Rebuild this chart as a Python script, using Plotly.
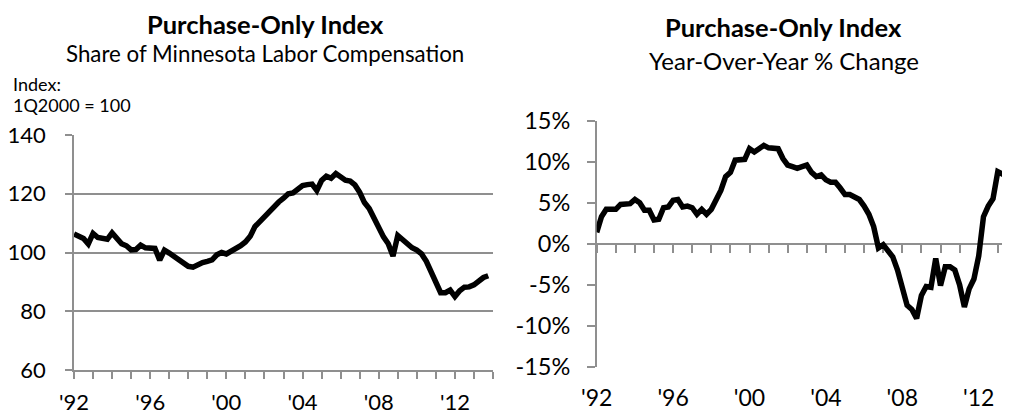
import plotly.graph_objects as go

# ---------------- data ----------------
quarters = [1992 + i / 4 for i in range(88)]  # 1992Q1 ... 2013Q4

index_values = [
    106.3, 105.5, 104.8, 102.9,   # 1992
    106.5, 105.1, 104.9, 104.5,   # 1993
    106.7, 104.5, 103.0, 102.3,   # 1994
    100.9, 101.0, 102.5, 101.6,   # 1995
    101.4, 101.4, 97.4, 100.8,    # 1996
    99.8, 98.6, 97.4, 96.5,       # 1997
    95.3, 95.0, 96.0, 96.6,       # 1998
    97.0, 97.5, 99.2, 100.0,      # 1999
    99.5, 100.3, 101.5, 102.3,    # 2000
    103.6, 105.5, 108.8, 110.6,   # 2001
    112.0, 114.2, 116.0, 117.2,   # 2002
    118.5, 120.0, 120.3, 121.7,   # 2003
    122.8, 123.1, 123.3, 121.1,   # 2004
    124.5, 126.0, 125.3, 126.9,   # 2005
    125.5, 124.6, 124.3, 123.0,   # 2006
    120.5, 117.0, 115.0, 111.5,   # 2007
    108.0, 105.3, 103.0, 98.8,    # 2008
    105.8, 104.3, 103.3, 101.6,   # 2009
    100.8, 99.5, 97.0, 93.5,      # 2010
    89.5, 86.3, 86.3, 87.2,       # 2011
    85.0, 87.0, 88.2, 88.3,       # 2012
    89.0, 90.5, 91.5, 92.1,       # 2013
]

yoy_values = [
    1.4, 3.3, 4.2, 4.2,           # 1992
    4.2, 4.8, 4.8, 4.9,           # 1993
    5.4, 5.0, 4.1, 4.1,           # 1994
    2.9, 3.0, 4.4, 4.5,           # 1995
    5.3, 5.4, 4.5, 4.6,           # 1996
    4.4, 3.6, 4.2, 3.6,           # 1997
    4.2, 5.3, 6.5, 8.2,           # 1998
    8.7, 10.2, 10.2, 10.3,        # 1999
    11.6, 11.2, 11.6, 12.0,       # 2000
    11.7, 11.7, 11.6, 10.4,       # 2001
    9.6, 9.4, 9.2, 9.4,           # 2002
    9.6, 8.7, 8.2, 8.4,           # 2003
    7.8, 7.5, 7.5, 6.8,           # 2004
    6.0, 6.0, 5.6, 5.4,           # 2005
    4.6, 3.6, 2.1, -0.5,          # 2006
    -0.1, -1.0, -1.6, -3.2,       # 2007
    -5.5, -7.5, -8.0, -9.1,       # 2008
    -6.3, -5.2, -5.3, -1.8,       # 2009
    -5.1, -2.8, -2.8, -3.2,       # 2010
    -5.0, -7.7, -5.5, -4.3,       # 2011
    -1.5, 3.3, 4.6, 5.5,          # 2012
    8.8, 8.5, 9.0, 9.4,           # 2013
]

year_ticks = [1992, 1996, 2000, 2004, 2008, 2012]
year_labels = ["'92", "'96", "'00", "'04", "'08", "'12"]
all_years = list(range(1992, 2015))

index_ticks = [60, 80, 100, 120, 140]
pct_ticks = [-15, -10, -5, 0, 5, 10, 15]
pct_labels = ["-15%", "-10%", "-5%", "0%", "5%", "10%", "15%"]

# ---------------- style ----------------
W, H = 1010, 414
OFF = 8  # page body margin in the browser
FONT = "Lato"
GRAY = "#8f8f8f"
TICKFONT_L = dict(family=FONT, size=22, color="#000000")
TICKFONT_RX = dict(family=FONT, size=23, color="#000000")
TICKFONT_RY = dict(family=FONT, size=23.5, color="#000000")

def px_x(p):
    return (p - OFF) / W

def px_y(p):
    return 1 - (p - OFF) / H

fig = go.Figure()

fig.add_trace(go.Scatter(
    x=quarters, y=index_values, mode="lines",
    line=dict(color="#000000", width=5.5),
    xaxis="x", yaxis="y", showlegend=False, hoverinfo="skip",
))
fig.add_trace(go.Scatter(
    x=quarters, y=yoy_values, mode="lines",
    line=dict(color="#000000", width=5.5),
    xaxis="x2", yaxis="y2", showlegend=False, hoverinfo="skip",
))
# same series bound (invisibly) to the zero-line axis so that axis is drawn
fig.add_trace(go.Scatter(
    x=quarters, y=yoy_values, mode="markers",
    marker=dict(size=1, opacity=0),
    xaxis="x3", yaxis="y2", showlegend=False, hoverinfo="skip",
))

left_dom_x = [px_x(74), px_x(493)]
left_dom_y = [px_y(370), px_y(135)]
right_dom_x = [px_x(596.7), px_x(1010)]
right_dom_y = [px_y(366.8), px_y(120.8)]
right_range_x = [1992, 1992 + (1010 - 596.7) / 19.1]

fig.update_layout(
    width=W, height=H,
    margin=dict(l=0, r=0, t=0, b=0, pad=0, autoexpand=False),
    paper_bgcolor="#ffffff", plot_bgcolor="rgba(0,0,0,0)",
    font=dict(family=FONT, color="#000000"),
    xaxis=dict(
        domain=left_dom_x, anchor="y", range=[1992, 2014], automargin=False,
        tickvals=year_ticks, ticktext=year_labels, tickfont=TICKFONT_L,
        ticks="outside", ticklen=7, tickwidth=1.5, tickcolor=GRAY,
        minor=dict(tickvals=all_years, ticks="outside", ticklen=7,
                   tickwidth=1.5, tickcolor=GRAY, showgrid=False),
        showline=True, linecolor=GRAY, linewidth=1.5, layer="below traces",
        showgrid=False, zeroline=False, ticklabelstandoff=5,
    ),
    yaxis=dict(
        domain=left_dom_y, anchor="x", range=[60, 140], automargin=False,
        tickvals=index_ticks, tickfont=TICKFONT_L,
        ticks="outside", ticklen=7, tickwidth=1.5, tickcolor=GRAY,
        showline=True, linecolor=GRAY, linewidth=1.5, layer="below traces",
        showgrid=True, gridcolor=GRAY, gridwidth=1.5,
        zeroline=False, ticklabelstandoff=15,
    ),
    xaxis2=dict(
        domain=right_dom_x, anchor="y2", range=right_range_x, automargin=False,
        tickvals=year_ticks, ticktext=year_labels, tickfont=TICKFONT_RX,
        ticks="", showline=False, showgrid=False, zeroline=False,
        ticklabelstandoff=15,
    ),
    xaxis3=dict(
        domain=right_dom_x, overlaying="x2", anchor="free", automargin=False,
        position=px_y(243.8), range=right_range_x,
        tickvals=all_years, showticklabels=False,
        ticks="outside", ticklen=8, tickwidth=1.5, tickcolor=GRAY,
        showline=True, linecolor=GRAY, linewidth=1.5, layer="below traces",
        showgrid=False, zeroline=False,
    ),
    yaxis2=dict(
        domain=right_dom_y, anchor="x2", range=[-15, 15], automargin=False,
        tickvals=pct_ticks, ticktext=pct_labels, tickfont=TICKFONT_RY,
        ticks="outside", ticklen=8, tickwidth=1.5, tickcolor=GRAY,
        showline=True, linecolor=GRAY, linewidth=1.5, layer="below traces",
        showgrid=False, zeroline=False, ticklabelstandoff=12,
    ),
)

annotations = [
    dict(text="<b>Purchase-Only Index</b>", x=px_x(265), y=px_y(24),
         font=dict(size=25.5)),
    dict(text="Share of Minnesota Labor Compensation", x=px_x(265), y=px_y(53),
         font=dict(size=22.3)),
    dict(text="Index:", x=px_x(11), y=px_y(84), xanchor="left",
         font=dict(size=18)),
    dict(text="1Q2000 = 100", x=px_x(11), y=px_y(105), xanchor="left",
         font=dict(size=18)),
    dict(text="<b>Purchase-Only Index</b>", x=px_x(783), y=px_y(27),
         font=dict(size=25.5)),
    dict(text="Year-Over-Year % Change", x=px_x(784), y=px_y(60),
         font=dict(size=24)),
]
for a in annotations:
    a.setdefault("xanchor", "center")
    a.update(xref="paper", yref="paper", yanchor="middle", showarrow=False)
    a["font"].update(family=FONT, color="#000000")
fig.update_layout(annotations=annotations)

fig.write_html("out.html")
